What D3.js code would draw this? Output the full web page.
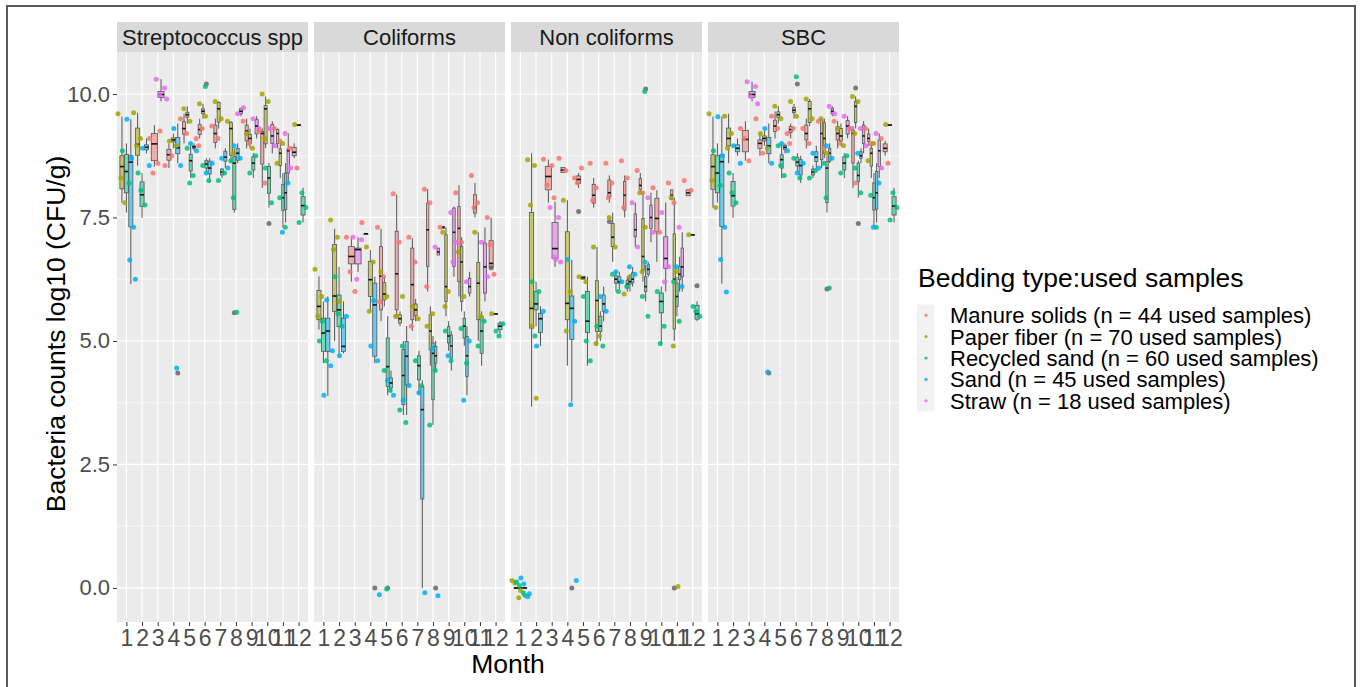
<!DOCTYPE html>
<html><head><meta charset="utf-8">
<script src="https://cdn.jsdelivr.net/npm/d3@7"></script>
<style>body{margin:0;background:#fff}svg{display:block;font-family:"Liberation Sans",Arial,sans-serif}</style>
</head><body><svg id="c" width="1360" height="687"></svg>
<script>
const facets = ["Streptococcus spp","Coliforms","Non coliforms","SBC"];
const months = [1,2,3,4,5,6,7,8,9,10,11,12];
const bedding = ["Manure solids (n = 44 used samples)","Paper fiber (n = 70 used samples)","Recycled sand (n = 60 used samples)","Sand (n = 45 used samples)","Straw (n = 18 used samples)"];
const beddingColors = ["#F8766D","#A3A500","#00BF7D","#00B0F6","#E76BF3"];
const yTicks = [0,2.5,5,7.5,10];
const yMinor = [1.25,3.75,6.25,8.75];

// boxes: [month, beddingIndex, lowerWhisker, q1, median, q3, upperWhisker]
const strepBoxes = [
[1,1,7.8,8.08,8.53,8.75,9.54],[1,2,7.6,8.0,8.43,8.78,9.0],[1,3,6.15,7.31,8.62,8.75,9.49],
[2,1,8.55,8.76,8.98,9.31,9.62],[2,2,7.49,7.72,7.96,8.22,8.4],[2,3,8.8,8.87,8.92,8.97,9.1],
[3,0,8.53,8.65,8.99,9.2,9.37],[3,4,9.85,9.93,9.99,10.05,10.3],
[4,0,8.5,8.66,8.77,8.88,9.0],[4,1,8.9,9.03,9.07,9.11,9.2],[4,3,8.6,8.79,8.91,9.12,9.4],
[5,0,9.0,9.19,9.3,9.44,9.6],[5,1,9.4,9.53,9.58,9.63,9.75],[5,2,8.3,8.44,8.65,8.78,9.0],[5,3,8.85,8.9,8.93,8.95,9.0],
[6,0,9.1,9.18,9.28,9.38,9.5],[6,1,9.5,9.6,9.65,9.7,9.8],[6,2,8.4,8.5,8.58,8.65,8.7],[6,3,8.2,8.38,8.5,8.64,8.7],
[7,0,8.9,9.02,9.2,9.37,9.5],[7,1,9.3,9.43,9.7,9.83,9.85],[7,2,8.3,8.36,8.42,8.48,8.5],[7,3,8.5,8.64,8.72,8.84,8.9],
[8,1,8.6,8.76,9.3,9.42,9.45],[8,2,7.6,7.66,8.6,8.73,8.9],[8,3,8.6,8.66,8.8,8.9,9.0],[8,4,9.55,9.6,9.65,9.7,9.72],
[9,0,8.9,9.05,9.25,9.37,9.5],[9,1,8.9,9.0,9.1,9.18,9.3],[9,2,8.3,8.46,8.6,8.73,8.8],[9,4,9.1,9.19,9.35,9.48,9.55],
[10,0,8.1,8.58,9.2,9.24,9.3],[10,1,8.9,8.99,9.7,9.77,9.95],[10,2,7.7,7.99,8.3,8.53,8.6],[10,4,8.8,9.0,9.15,9.38,9.45],
[11,0,8.9,9.0,9.2,9.28,9.3],[11,1,8.3,8.55,8.8,8.89,9.0],[11,2,7.3,7.64,7.9,8.17,8.4],[11,3,7.4,7.66,8.0,8.4,8.6],[11,4,8.2,8.4,8.85,8.89,9.2],
[12,0,8.7,8.75,8.82,8.92,9.0],[12,1,9.36,9.36,9.37,9.38,9.38],[12,2,7.4,7.55,7.74,7.92,8.1]
];
const coliBoxes = [
[1,1,5.23,5.43,5.7,6.02,6.31],[1,2,4.55,4.79,5.16,5.46,5.8],[1,3,3.89,4.79,5.2,5.46,5.9],
[2,1,5.0,5.6,5.91,6.95,7.27],[2,2,4.7,5.29,5.63,5.93,6.5],[2,3,4.75,4.79,4.89,5.46,5.8],
[3,0,6.2,6.56,6.71,6.91,7.11],[3,4,6.4,6.56,6.85,6.88,7.1],
[4,0,7.17,7.17,7.17,7.17,7.17],[4,1,5.6,5.9,6.24,6.61,6.84],[4,3,4.55,4.69,5.73,6.17,6.3],
[5,0,5.4,5.63,6.31,6.91,7.27],[5,1,5.7,5.83,5.95,6.18,6.3],[5,2,3.9,4.08,4.48,5.06,5.5],[5,3,3.95,4.05,4.15,4.25,4.4],
[6,0,5.5,5.63,6.36,7.22,7.96],[6,1,5.3,5.36,5.45,5.53,5.6],[6,2,3.5,3.71,4.3,4.83,5.0],[6,3,3.5,4.11,4.69,4.99,5.3],
[7,0,5.2,5.43,6.14,6.88,7.08],[7,1,5.4,5.51,5.63,5.75,5.85],[7,2,3.9,4.21,4.5,4.7,4.8],[7,3,0,1.8,3.61,4.08,4.2],
[8,0,6.0,6.51,7.25,7.79,8.07],[8,1,4.5,4.82,5.2,5.53,5.7],[8,2,3.3,3.81,4.75,4.96,5.1],[8,3,4.4,4.55,4.7,4.89,5.0],[8,4,6.74,6.74,6.8,6.88,6.88],
[9,0,7.28,7.28,7.3,7.32,7.32],[9,1,5.5,5.8,6.1,7.15,7.3],[9,2,4.8,4.96,5.1,5.29,5.4],[9,3,4.4,4.65,4.9,5.12,5.2],[9,4,6.3,6.51,7.2,7.69,7.72],
[10,0,5.9,6.2,7.28,7.72,8.15],[10,1,5.6,5.8,6.6,6.91,7.1],[10,2,4.9,5.06,5.3,5.46,5.6],[10,3,3.9,4.28,4.7,5.09,5.3],[10,4,5.9,5.97,6.1,6.27,6.4],
[11,0,7.5,7.59,7.7,7.96,8.2],[11,1,5.0,5.43,6.17,6.59,7.2],[11,2,4.5,4.75,5.2,5.49,5.6],[11,4,5.8,5.97,6.5,6.98,7.3],
[12,0,6.45,6.49,6.57,7.03,7.5],[12,1,5.55,5.55,5.55,5.55,5.55],[12,2,5.1,5.23,5.3,5.36,5.4]
];
const nonColiBoxes = [
[1,1,0,0,0,0,0],[1,2,0,0,0,0,0],[1,3,0,0,0,0,0],
[2,1,3.67,5.26,5.66,7.6,8.8],[2,2,5.3,5.63,5.75,6.0,6.2],[2,3,4.9,5.17,5.45,5.56,5.7],
[3,0,7.8,8.06,8.33,8.53,8.67],[3,4,6.5,6.67,6.87,7.4,7.82],
[4,0,8.41,8.41,8.46,8.51,8.51],[4,1,4.5,5.43,5.76,7.21,7.85],[4,3,3.77,5.03,5.66,5.91,6.64],
[5,0,8.1,8.19,8.27,8.34,8.4],[5,1,6.25,6.25,6.28,6.31,6.31],[5,2,4.5,5.17,5.4,6.0,6.3],
[6,0,7.7,7.79,7.95,8.17,8.3],[6,1,4.9,5.19,5.82,6.22,6.9],[6,2,5.0,5.19,5.3,5.5,5.6],[6,3,5.4,5.6,5.75,5.93,6.1],
[7,0,7.8,7.92,8.0,8.26,8.35],[7,1,6.6,6.91,7.1,7.38,7.6],[7,2,6.0,6.17,6.25,6.32,6.4],[7,3,6.05,6.17,6.2,6.3,6.4],
[8,0,7.5,7.65,7.95,8.23,8.35],[8,1,6.0,6.07,6.15,6.23,6.3],[8,2,6.0,6.15,6.2,6.3,6.35],[8,3,6.1,6.18,6.25,6.38,6.5],[8,4,6.9,7.11,7.25,7.57,7.8],
[9,0,8.0,8.07,8.15,8.29,8.4],[9,1,6.2,6.44,6.71,7.48,8.0],[9,2,5.8,6.0,6.1,6.3,6.54],[9,3,6.3,6.35,6.45,6.54,6.6],[9,4,7.0,7.28,7.5,7.75,8.0],
[10,0,6.6,7.21,7.48,7.89,8.05],[10,2,4.9,5.57,5.8,5.97,6.1],[10,4,6.0,6.47,6.67,7.11,7.8],
[11,0,7.86,7.86,7.95,8.06,8.06],[11,1,5.0,5.24,6.25,7.17,7.9],[11,2,5.5,5.7,5.9,6.17,6.3],[11,3,6.0,6.24,6.35,6.51,6.7],[11,4,6.0,6.3,6.5,6.88,7.2],
[12,0,7.94,7.94,8.0,8.06,8.06],[12,1,7.15,7.15,7.15,7.15,7.15],[12,2,5.4,5.44,5.55,5.72,5.8]
];
const sbcBoxes = [
[1,1,7.7,8.07,8.53,8.77,9.54],[1,2,7.8,8.0,8.4,8.75,9.0],[1,3,6.16,7.32,8.63,8.77,9.54],
[2,1,8.6,8.95,9.1,9.31,9.6],[2,2,7.49,7.73,7.94,8.23,8.4],[2,3,8.75,8.83,8.9,8.97,9.1],
[3,0,8.65,8.83,9.08,9.26,9.45],[3,4,9.85,9.93,9.99,10.05,10.25],
[4,0,8.75,8.9,9.0,9.07,9.2],[4,1,8.95,9.05,9.1,9.15,9.25],[4,3,8.6,8.79,8.95,9.12,9.4],
[5,0,9.1,9.24,9.35,9.47,9.65],[5,1,9.4,9.52,9.58,9.64,9.75],[5,2,8.3,8.5,8.67,8.77,9.0],[5,3,8.8,8.88,8.92,8.96,9.0],
[6,0,9.1,9.22,9.28,9.34,9.4],[6,1,9.5,9.62,9.67,9.73,9.8],[6,2,8.4,8.54,8.62,8.72,8.8],[6,3,8.2,8.36,8.55,8.67,8.75],
[7,0,8.9,9.07,9.2,9.37,9.5],[7,1,9.35,9.42,9.7,9.85,9.9],[7,2,8.3,8.36,8.42,8.48,8.55],[7,3,8.5,8.63,8.72,8.83,8.95],
[8,0,8.5,8.67,9.2,9.47,9.5],[8,1,8.7,8.8,9.1,9.42,9.5],[8,2,7.6,7.8,8.5,8.63,8.75],[8,3,8.6,8.64,8.8,8.9,9.0],[8,4,9.55,9.6,9.65,9.71,9.75],
[9,0,8.9,9.07,9.2,9.34,9.45],[9,1,8.95,9.05,9.15,9.3,9.4],[9,2,8.3,8.46,8.6,8.73,8.8],[9,4,9.1,9.19,9.35,9.46,9.55],
[10,0,8.1,8.6,9.2,9.27,9.35],[10,1,9.3,9.42,9.75,9.85,9.95],[10,2,7.9,8.23,8.35,8.6,8.65],[10,3,8.6,8.7,8.75,8.83,8.9],[10,4,8.8,9.0,9.15,9.37,9.45],
[11,0,8.95,9.04,9.1,9.19,9.3],[11,1,8.3,8.54,8.8,8.9,9.0],[11,2,7.3,7.65,7.9,8.2,8.4],[11,3,7.4,7.67,8.0,8.43,8.6],[11,4,8.3,8.53,8.85,9.07,9.2],
[12,0,8.75,8.83,8.9,8.99,9.05],[12,1,9.36,9.36,9.37,9.38,9.38],[12,2,7.4,7.55,7.73,7.92,8.1]
];

// points: [month, beddingIndex, value]
const strepPoints = [
[1,1,9.6],[1,1,7.8],[1,1,8.3],[1,2,8.85],[1,2,8.2],[1,3,9.49],[1,3,7.3],[1,3,6.64],[1,3,6.25],[1,3,8.7],
[2,1,9.62],[2,1,9.1],[2,1,8.95],[2,2,8.4],[2,2,7.75],[2,2,8.05],[2,3,8.9],[2,3,8.55],
[3,0,9.1],[3,0,8.6],[3,0,8.4],[3,0,9.25],[3,4,10.3],[3,4,10.12],[3,4,9.98],[3,4,9.9],
[4,0,8.55],[4,0,8.75],[4,1,9.05],[4,1,8.95],[4,3,9.3],[4,3,8.55],[4,3,4.45],
[5,0,9.5],[5,0,9.2],[5,1,9.7],[5,1,9.45],[5,2,8.9],[5,2,8.35],[5,2,8.2],[5,3,9.0],[5,3,8.85],
[6,0,9.1],[6,0,9.3],[6,0,8.95],[6,1,9.8],[6,1,9.55],[6,2,8.55],[6,2,8.25],[6,2,10.15],[6,3,8.4],[6,3,8.6],
[7,0,9.35],[7,0,9.1],[7,1,9.85],[7,1,9.5],[7,2,8.25],[7,2,8.4],[7,3,8.7],[7,3,8.5],
[8,1,9.45],[8,1,8.8],[8,2,8.65],[8,2,5.58],[8,2,7.9],[8,3,8.95],[8,3,8.7],[8,4,9.6],[8,4,9.72],
[9,0,9.45],[9,0,9.0],[9,1,9.2],[9,1,8.9],[9,2,8.4],[9,2,8.75],[9,4,9.5],[9,4,9.3],
[10,0,9.25],[10,0,8.2],[10,1,10.0],[10,1,9.85],[10,1,9.1],[10,2,8.5],[10,2,7.8],[10,4,9.3],[10,4,8.95],
[11,0,9.3],[11,0,9.05],[11,1,8.6],[11,1,9.0],[11,2,7.9],[11,2,7.3],[11,3,7.2],[11,3,8.2],[11,4,9.2],[11,4,8.5],
[12,0,8.9],[12,0,8.5],[12,1,9.38],[12,2,7.4],[12,2,7.7],[12,2,8.0]
];
const coliPoints = [
[1,1,6.45],[1,1,5.9],[1,1,5.5],[1,2,5.0],[1,2,4.6],[1,2,5.4],[1,3,3.9],[1,3,4.5],[1,3,5.83],[1,3,4.8],
[2,1,7.45],[2,1,7.1],[2,1,6.85],[2,1,5.8],[2,2,6.3],[2,2,5.3],[2,2,5.55],[2,3,4.7],[2,3,5.5],
[3,0,7.1],[3,0,6.0],[3,0,6.4],[3,4,7.1],[3,4,7.05],[3,4,6.25],
[4,0,7.4],[4,1,6.9],[4,1,6.6],[4,1,5.6],[4,3,4.9],[4,3,4.6],[4,3,5.82],[4,3,-0.14],
[5,0,7.3],[5,0,6.3],[5,0,5.8],[5,1,6.4],[5,1,5.9],[5,2,4.4],[5,2,4.0],[5,2,-0.02],[5,3,4.2],[5,3,3.9],
[6,0,7.98],[6,0,7.0],[6,0,5.5],[6,1,5.5],[6,1,5.9],[6,2,3.6],[6,2,3.35],[6,2,4.9],[6,3,3.8],[6,3,4.1],
[7,0,7.1],[7,0,6.6],[7,0,5.3],[7,1,5.7],[7,1,5.45],[7,2,4.6],[7,2,4.1],[7,3,3.95],[7,3,-0.1],
[8,0,8.07],[8,0,7.8],[8,0,6.1],[8,1,5.3],[8,1,5.55],[8,2,3.3],[8,2,4.4],[8,3,4.85],[8,3,-0.16],[8,4,6.9],
[9,0,7.3],[9,1,7.2],[9,1,6.0],[9,1,5.7],[9,2,5.2],[9,2,4.6],[9,3,4.7],[9,4,7.6],[9,4,7.0],[9,4,6.6],
[10,0,8.0],[10,0,7.0],[10,1,6.8],[10,1,5.9],[10,2,5.25],[10,2,4.55],[10,3,3.8],[10,3,5.0],[10,4,6.2],
[11,0,8.35],[11,0,7.8],[11,0,7.7],[11,1,7.2],[11,1,5.5],[11,2,4.9],[11,2,5.4],[11,4,7.0],[11,4,6.3],
[12,0,7.5],[12,0,6.35],[12,0,6.95],[12,1,5.55],[12,2,5.2],[12,2,5.35],[12,2,5.1]
];
const nonColiPoints = [
[1,1,0.15],[1,1,-0.2],[1,1,0.1],[1,1,-0.05],[1,2,0.12],[1,2,-0.1],[1,2,0.05],[1,2,-0.15],[1,3,0.2],[1,3,-0.18],[1,3,0.08],[1,3,-0.12],
[2,1,8.67],[2,1,8.55],[2,1,7.75],[2,1,3.84],[2,1,5.3],[2,2,6.2],[2,2,6.0],[2,2,5.1],[2,3,4.9],[2,3,5.6],
[3,0,8.68],[3,0,8.55],[3,0,8.15],[3,0,7.9],[3,4,7.7],[3,4,7.5],[3,4,6.7],[3,4,6.6],[3,4,6.65],
[4,0,8.7],[4,0,8.45],[4,1,7.85],[4,1,6.0],[4,1,5.2],[4,3,6.65],[4,3,5.4],[4,3,3.71],[4,3,0.15],
[5,0,8.3],[5,0,8.5],[5,0,8.2],[5,1,6.3],[5,1,6.2],[5,2,5.9],[5,2,4.6],[5,2,5.0],
[6,0,8.6],[6,0,8.1],[6,0,7.85],[6,1,6.9],[6,1,5.1],[6,1,4.95],[6,2,5.3],[6,2,4.9],[6,3,5.9],[6,3,5.6],
[7,0,8.6],[7,0,8.2],[7,0,7.9],[7,1,7.5],[7,1,6.9],[7,2,6.35],[7,2,6.0],[7,3,6.4],[7,3,6.2],
[8,0,8.65],[8,0,8.3],[8,0,7.7],[8,1,5.95],[8,1,6.3],[8,2,6.1],[8,3,6.5],[8,3,6.35],[8,4,7.8],[8,4,6.9],
[9,0,8.45],[9,0,8.0],[9,1,8.0],[9,1,7.3],[9,1,6.4],[9,2,5.9],[9,2,5.5],[9,2,10.05],[9,3,6.6],[9,4,7.9],[9,4,7.2],
[10,0,8.1],[10,0,7.2],[10,2,6.0],[10,2,5.3],[10,2,4.95],[10,4,7.6],[10,4,6.5],[10,4,6.2],
[11,0,8.2],[11,0,7.8],[11,1,7.9],[11,1,6.4],[11,1,4.9],[11,1,0.03],[11,2,6.2],[11,2,5.4],[11,3,6.5],[11,3,6.1],[11,4,7.3],
[12,0,8.25],[12,0,8.05],[12,1,7.15],[12,2,5.7],[12,2,5.5],[12,2,5.6]
];
const sbcPoints = [
[1,1,9.6],[1,1,7.7],[1,1,8.25],[1,2,8.85],[1,2,8.15],[1,3,9.54],[1,3,7.3],[1,3,6.65],[1,3,5.99],[1,3,8.75],
[2,1,9.55],[2,1,9.2],[2,1,8.9],[2,2,8.4],[2,2,7.8],[2,2,8.0],[2,3,8.95],[2,3,8.6],
[3,0,9.3],[3,0,8.65],[3,0,9.1],[3,4,10.25],[3,4,10.15],[3,4,9.95],[3,4,9.8],
[4,0,9.5],[4,0,8.8],[4,1,9.2],[4,1,8.9],[4,3,9.3],[4,3,8.6],[4,3,4.37],
[5,0,9.55],[5,0,9.3],[5,1,9.75],[5,1,9.5],[5,2,8.95],[5,2,8.35],[5,2,8.55],[5,3,9.0],[5,3,8.85],
[6,0,9.2],[6,0,9.3],[6,0,9.0],[6,1,9.85],[6,1,9.55],[6,2,8.7],[6,2,8.3],[6,2,10.35],[6,3,8.4],[6,3,8.6],
[7,0,9.3],[7,0,9.0],[7,1,9.9],[7,1,9.5],[7,2,8.3],[7,2,8.45],[7,3,8.8],[7,3,8.5],
[8,0,9.45],[8,0,8.9],[8,1,9.5],[8,1,8.8],[8,2,8.6],[8,2,6.07],[8,2,7.9],[8,3,8.95],[8,3,8.7],[8,4,9.75],[8,4,9.6],
[9,0,9.45],[9,0,9.0],[9,1,9.3],[9,1,8.95],[9,2,8.4],[9,2,8.75],[9,4,9.55],[9,4,9.3],
[10,0,9.3],[10,0,8.2],[10,1,9.95],[10,1,9.85],[10,1,9.2],[10,2,8.5],[10,2,8.0],[10,3,8.8],[10,4,9.3],[10,4,8.95],
[11,0,9.3],[11,0,9.0],[11,1,8.65],[11,1,9.0],[11,2,7.95],[11,2,7.3],[11,3,7.3],[11,3,8.2],[11,4,9.2],[11,4,8.5],
[12,0,9.1],[12,0,8.6],[12,1,9.38],[12,2,7.45],[12,2,7.7],[12,2,8.0]
];

// boxplot outliers: [month, beddingIndex, value]
const strepOutliers = [[4,3,4.35],[8,2,5.57],[6,2,10.2],[10,2,7.38]];
const coliOutliers = [[4,3,0],[5,2,0],[8,3,0],[12,0,6.48]];
const nonColiOutliers = [[4,3,0],[11,1,0],[9,2,10.1],[5,0,7.62],[7,0,7.42],[12,2,6.12]];
const sbcOutliers = [[4,3,4.35],[8,2,6.05],[6,2,10.2],[10,2,7.38],[10,1,10.12]];

const jitterPattern = [-0.7,0.5,-0.2,0.8,0.1,-0.5,0.6,-0.9,0.3,-0.3];

const facetData = [
  {boxes: strepBoxes, points: strepPoints, outliers: strepOutliers},
  {boxes: coliBoxes, points: coliPoints, outliers: coliOutliers},
  {boxes: nonColiBoxes, points: nonColiPoints, outliers: nonColiOutliers},
  {boxes: sbcBoxes, points: sbcPoints, outliers: sbcOutliers}
];

const svg = d3.select("#c");
const panelTop = 52, panelBottom = 622, stripTop = 22;
const panelLeft0 = 117, panelW = 191, panelGap = 6;
const dodgeWidth = 0.85;
const FONT = "Liberation Sans, Arial, sans-serif";

// outer frame
svg.append("rect").attr("x",7).attr("y",6).attr("width",1348).attr("height",700)
  .attr("fill","none").attr("stroke","#5a5a5a").attr("stroke-width",2);

const y = d3.scaleLinear().domain([-0.69, 10.85]).range([panelBottom, panelTop]);

facets.forEach((name, fi) => {
  const left = panelLeft0 + fi * (panelW + panelGap);
  const x = d3.scaleLinear().domain([0.4, 12.6]).range([left, left + panelW]);
  const pxPerUnit = panelW / 12.2;
  const g = svg.append("g");
  g.append("rect").attr("x", left).attr("y", panelTop).attr("width", panelW).attr("height", panelBottom - panelTop).attr("fill", "#EBEBEB");
  g.selectAll(".ym").data(yMinor).join("line").attr("x1", left).attr("x2", left + panelW)
    .attr("y1", d => y(d)).attr("y2", d => y(d)).attr("stroke", "#fff").attr("stroke-width", 0.6);
  g.selectAll(".yM").data(yTicks).join("line").attr("x1", left).attr("x2", left + panelW)
    .attr("y1", d => y(d)).attr("y2", d => y(d)).attr("stroke", "#fff").attr("stroke-width", 1.2);
  g.selectAll(".xM").data(months).join("line").attr("y1", panelTop).attr("y2", panelBottom)
    .attr("x1", d => x(d)).attr("x2", d => x(d)).attr("stroke", "#fff").attr("stroke-width", 1.2);
  svg.append("rect").attr("x", left).attr("y", stripTop).attr("width", panelW).attr("height", panelTop - stripTop).attr("fill", "#D9D9D9");
  svg.append("text").attr("x", left + panelW / 2).attr("y", 45).attr("text-anchor", "middle")
    .attr("font-size", 22).attr("fill", "#1A1A1A").text(name);

  const fd = facetData[fi];
  const slots = {};
  months.forEach(m => {
    const present = fd.boxes.filter(b => b[0] === m).map(b => b[1]).sort((a, b) => a - b);
    const n = present.length || 1;
    present.forEach((t, i) => {
      slots[m + "_" + t] = { c: m + (-0.5 + (i + 0.5) / n) * dodgeWidth, w: dodgeWidth / n };
    });
  });
  const slotOf = (m, t) => slots[m + "_" + t] || { c: m, w: dodgeWidth };

  const bg = g.append("g");
  fd.boxes.forEach(b => {
    const [m, t, lo, q1, med, q3, hi] = b;
    const s = slotOf(m, t);
    const cx = x(s.c), bw = s.w * pxPerUnit * 0.92;
    bg.append("line").attr("x1", cx).attr("x2", cx).attr("y1", y(hi)).attr("y2", y(q3)).attr("stroke", "#555").attr("stroke-width", 1);
    bg.append("line").attr("x1", cx).attr("x2", cx).attr("y1", y(q1)).attr("y2", y(lo)).attr("stroke", "#555").attr("stroke-width", 1);
    bg.append("rect").attr("x", cx - bw / 2).attr("y", y(q3)).attr("width", bw).attr("height", Math.max(0.5, y(q1) - y(q3)))
      .attr("fill", beddingColors[t]).attr("fill-opacity", 0.55).attr("stroke", "#555").attr("stroke-width", 0.8);
    bg.append("line").attr("x1", cx - bw / 2).attr("x2", cx + bw / 2).attr("y1", y(med)).attr("y2", y(med)).attr("stroke", "#111").attr("stroke-width", 1.6);
  });
  fd.outliers.forEach(o => {
    const s = slotOf(o[0], o[1]);
    bg.append("circle").attr("cx", x(s.c)).attr("cy", y(o[2])).attr("r", 2.5).attr("fill", "#666").attr("fill-opacity", 0.85);
  });
  const counters = {};
  const pg = g.append("g");
  fd.points.forEach(p => {
    const [m, t, v] = p;
    const key = m + "_" + t;
    const k = counters[key] = (counters[key] || 0) + 1;
    const s = slotOf(m, t);
    const amp = s.w * pxPerUnit * 0.6 + 3;
    pg.append("circle").attr("cx", x(s.c) + jitterPattern[(k - 1) % jitterPattern.length] * amp).attr("cy", y(v))
      .attr("r", 2.5).attr("fill", beddingColors[t]).attr("fill-opacity", 0.85);
  });

  const xa = svg.append("g").attr("transform", `translate(0,${panelBottom})`)
    .call(d3.axisBottom(x).tickValues(months).tickFormat(d => String(d)).tickSize(4).tickPadding(4));
  xa.select(".domain").remove();
  xa.selectAll("line").attr("stroke", "#333");
  xa.selectAll("text").attr("font-size", 23).attr("fill", "#4D4D4D").attr("font-family", FONT);

  if (fi === 0) {
    const ya = svg.append("g").attr("transform", `translate(${left},0)`)
      .call(d3.axisLeft(y).tickValues(yTicks).tickFormat(d3.format(".1f")).tickSize(4).tickPadding(3));
    ya.select(".domain").remove();
    ya.selectAll("line").attr("stroke", "#333");
    ya.selectAll("text").attr("font-size", 22).attr("fill", "#4D4D4D").attr("font-family", FONT);
  }
});

svg.append("text").attr("x", 508).attr("y", 673).attr("text-anchor", "middle").attr("font-size", 26.5).attr("fill", "#000").text("Month");
svg.append("text").attr("transform", "translate(65,334) rotate(-90)").attr("text-anchor", "middle")
  .attr("font-size", 26.5).attr("fill", "#000").text("Bacteria counts log10 (CFU/g)");

const lg = svg.append("g");
lg.append("text").attr("x", 918).attr("y", 287).attr("font-size", 26.5).attr("fill", "#000").text("Bedding type:used samples");
const rowTop = 304.5, rowH = 21.4;
bedding.forEach((b, i) => {
  lg.append("rect").attr("x", 917).attr("y", rowTop + i * rowH).attr("width", 17.3).attr("height", rowH).attr("fill", "#F2F2F2");
  lg.append("circle").attr("cx", 926).attr("cy", rowTop + i * rowH + rowH / 2).attr("r", 1.6).attr("fill", beddingColors[i]).attr("fill-opacity", 0.85);
  lg.append("text").attr("x", 950).attr("y", rowTop + i * rowH + rowH / 2 + 8).attr("font-size", 22).attr("fill", "#000").text(b);
});
</script></body></html>
